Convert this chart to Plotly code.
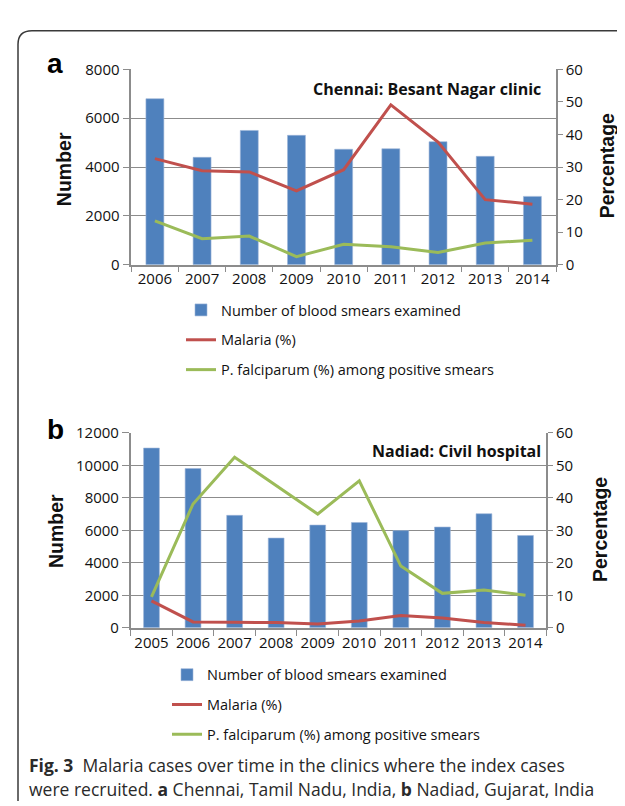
import plotly.graph_objects as go

W, H = 625, 806

# ---------------- data ----------------
years_a = ["2006", "2007", "2008", "2009", "2010", "2011", "2012", "2013", "2014"]
smears_a = [6800, 4400, 5500, 5300, 4730, 4750, 5040, 4440, 2800]
malaria_a = [32.6, 28.9, 28.5, 22.7, 29.2, 49.1, 37.7, 20.0, 18.6]
pf_a = [13.5, 8.0, 8.8, 2.5, 6.3, 5.5, 3.8, 6.7, 7.5]

years_b = ["2005", "2006", "2007", "2008", "2009", "2010", "2011", "2012", "2013", "2014"]
smears_b = [11060, 9800, 6920, 5520, 6320, 6480, 5980, 6200, 7020, 5680]
malaria_b = [8.3, 1.8, 1.7, 1.6, 1.2, 2.1, 3.8, 3.0, 1.6, 0.8]
pf_b = [9.5, 38.1, 52.5, 43.7, 35.0, 45.2, 19.0, 10.6, 11.6, 10.0]

names = ["Number of blood smears examined", "Malaria (%)", "P. falciparum (%) among positive smears"]

BLUE = "#4F81BD"
RED = "#C0504D"
GREEN = "#9BBB59"
AXIS = "#8C8C8C"
TICKFONT = dict(family="Open Sans", size=15, color="#111111")


def px(x):
    return x / W


def py(y):
    return 1 - y / H


fig = go.Figure()

# panel a
fig.add_trace(go.Bar(x=years_a, y=smears_a, name=names[0], marker=dict(color=BLUE, line=dict(color="#9DB6D8", width=0.6)),
                     width=0.38, xaxis="x", yaxis="y", legend="legend", legendgroup="a1"))
fig.add_trace(go.Scatter(x=years_a, y=malaria_a, name=names[1], mode="lines", line=dict(color=RED, width=3),
                         xaxis="x", yaxis="y2", legend="legend", legendgroup="a2"))
fig.add_trace(go.Scatter(x=years_a, y=pf_a, name=names[2], mode="lines", line=dict(color=GREEN, width=3),
                         xaxis="x", yaxis="y2", legend="legend", legendgroup="a3"))

# panel b
fig.add_trace(go.Bar(x=years_b, y=smears_b, name=names[0], marker=dict(color=BLUE, line=dict(color="#9DB6D8", width=0.6)),
                     width=0.38, xaxis="x2", yaxis="y3", legend="legend2", legendgroup="b1"))
fig.add_trace(go.Scatter(x=years_b, y=malaria_b, name=names[1], mode="lines", line=dict(color=RED, width=3),
                         xaxis="x2", yaxis="y4", legend="legend2", legendgroup="b2"))
fig.add_trace(go.Scatter(x=years_b, y=pf_b, name=names[2], mode="lines", line=dict(color=GREEN, width=3),
                         xaxis="x2", yaxis="y4", legend="legend2", legendgroup="b3"))

xcommon = dict(type="category", showline=True, linecolor=AXIS, linewidth=1.5, ticks="outside", tickson="boundaries",
               ticklen=6, tickcolor=AXIS, tickwidth=1.2, tickfont=TICKFONT, showgrid=False, zeroline=False,
               fixedrange=True, tickangle=0)
yleft = dict(showline=True, linecolor=AXIS, linewidth=1.5, ticks="outside", ticklen=7, tickcolor=AXIS, tickwidth=1.2,
             tickfont=TICKFONT, showgrid=True, gridcolor=AXIS, gridwidth=1, zeroline=False, fixedrange=True,
             tickformat="d")
yright = dict(showline=True, linecolor=AXIS, linewidth=1.5, ticks="outside", ticklen=5, tickcolor=AXIS, tickwidth=1.2,
              tickfont=TICKFONT, showgrid=False, zeroline=False, side="right", range=[0, 60], dtick=10,
              fixedrange=True)

dom_xa = [px(123.3), px(548)]
dom_ya = [py(252), py(51.7)]
dom_xb = [px(122.7), px(538.3)]
dom_yb = [py(624.3), py(424.3)]

LEGFONT = dict(family="Open Sans", size=14.5, color="#111111")

fig.update_layout(
    width=W, height=H,
    margin=dict(l=0, r=0, t=0, b=0),
    paper_bgcolor="white", plot_bgcolor="white",
    barmode="overlay",
    xaxis=dict(domain=dom_xa, anchor="y", range=[-0.5, 8.5], **xcommon),
    yaxis=dict(domain=dom_ya, anchor="x", range=[0, 8000], dtick=2000, **yleft),
    yaxis2=dict(domain=dom_ya, anchor="x", overlaying="y", **yright),
    xaxis2=dict(domain=dom_xb, anchor="y3", range=[-0.5, 9.5], **xcommon),
    yaxis3=dict(domain=dom_yb, anchor="x2", range=[0, 12000], dtick=2000, **yleft),
    yaxis4=dict(domain=dom_yb, anchor="x2", overlaying="y3", **yright),
    legend=dict(x=px(173), y=py(282), xanchor="left", yanchor="top", bgcolor="rgba(0,0,0,0)",
                font=LEGFONT, tracegroupgap=8, itemwidth=30, traceorder="grouped"),
    legend2=dict(x=px(159), y=py(656), xanchor="left", yanchor="top", bgcolor="rgba(0,0,0,0)",
                 font=LEGFONT, tracegroupgap=8, itemwidth=30, traceorder="grouped"),
)

ann = []
# panel letters
ann.append(dict(text="<b>a</b>", x=px(47), y=py(46), font=dict(family="Liberation Sans", size=28, color="black")))
ann.append(dict(text="<b>b</b>", x=px(47), y=py(421), font=dict(family="Liberation Sans", size=28, color="black")))
# axis titles
TT = dict(family="Liberation Sans", size=19.5, color="#111111")
ann.append(dict(text="<b>Number</b>", x=px(56), y=py(154), textangle=-90, font=TT))
ann.append(dict(text="<b>Percentage</b>", x=px(599), y=py(151), textangle=-90, font=TT))
ann.append(dict(text="<b>Number</b>", x=px(48), y=py(525), textangle=-90, font=TT))
ann.append(dict(text="<b>Percentage</b>", x=px(592), y=py(524), textangle=-90, font=TT))
# clinic labels
CL = dict(family="Open Sans", size=16, color="#111111")
ann.append(dict(text="<b>Chennai: Besant Nagar clinic</b>", x=px(535), y=py(72), xanchor="right", font=CL))
ann.append(dict(text="<b>Nadiad: Civil hospital</b>", x=px(535), y=py(443), xanchor="right", font=CL))
# caption
CF = dict(family="Open Sans", size=17.5, color="#2a2a2a")
ann.append(dict(text="<b>Fig. 3</b>  Malaria cases over time in the clinics where the index cases",
                x=px(19), y=py(765), xanchor="left", font=CF))
ann.append(dict(text="were recruited. <b>a</b> Chennai, Tamil Nadu, India, <b>b</b> Nadiad, Gujarat, India",
                x=px(19), y=py(790), xanchor="left", font=CF))

for a in ann:
    a.setdefault("xanchor", "center")
    a.update(xref="paper", yref="paper", showarrow=False, yanchor="middle")
fig.update_layout(annotations=ann)

# rounded frame (open to the right)
r = 14
x0, y0, yb = 10, 12, 802
path = (f"M {px(x0)},{py(yb)} L {px(x0)},{py(y0 + r)} "
        f"Q {px(x0)},{py(y0)} {px(x0 + r)},{py(y0)} L {px(W + 5)},{py(y0)}")
fig.add_shape(type="path", path=path, xref="paper", yref="paper", line=dict(color="#3a3a3a", width=1.5))

fig.write_html("out.html")
